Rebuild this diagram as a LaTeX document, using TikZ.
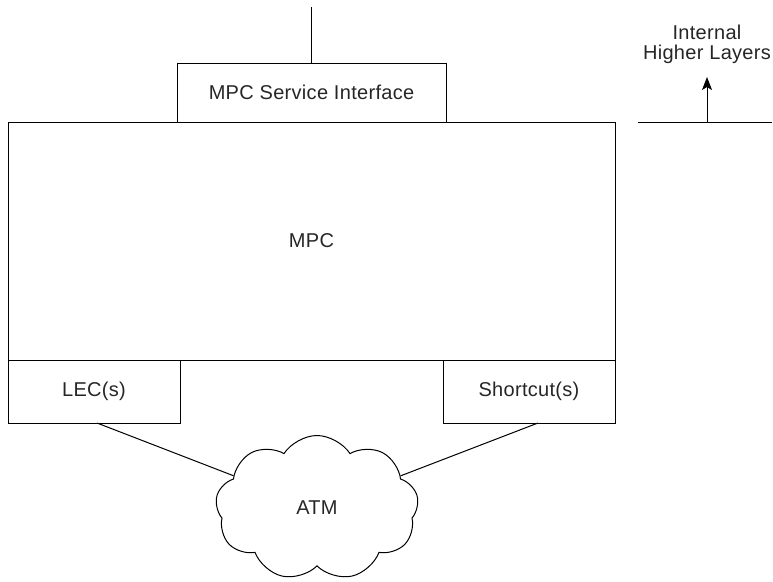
\documentclass[tikz,border=0pt]{standalone}
\usepackage{fontspec}
\setmainfont{Liberation Sans}[LetterSpace=1.5]
\usetikzlibrary{shapes.symbols,arrows.meta}
\begin{document}
\begin{tikzpicture}[x=1pt,y=-1pt,
  txt/.style={font=\fontsize{20}{20.5}\selectfont,text=black!85},
  box/.style={draw,line width=1pt,rectangle,inner sep=0pt,outer sep=0pt,txt},
  lbl/.style={txt,align=center,inner sep=0pt},
  conn/.style={line width=1pt}]
\useasboundingbox (0,0) rectangle (773,581);
\node[box,minimum width=607pt,minimum height=238pt] (mpc) at (311.5,241) {MPC};
\node[box,minimum width=269pt,minimum height=59pt] (sif) at (311.5,92.5) {MPC Service Interface};
\node[box,minimum width=172pt,minimum height=63pt] (lec) at (94,391.5) {LEC(s)};
\node[box,minimum width=172pt,minimum height=63pt] (sc) at (529,391.5) {Shortcut(s)};
\node[cloud,draw,line width=1pt,cloud puffs=9,cloud puff arc=115,aspect=1.4,
      minimum width=203pt,minimum height=145pt,inner sep=0pt,txt] (atm) at (317,508) {ATM};
\coordinate (top) at (311.5,7);
\draw[conn] (top) -- (sif.north);
\draw[conn] ([xshift=3pt]lec.south) -- (atm);
\draw[conn] ([xshift=9pt]sc.south) -- (atm);
\coordinate (hl) at (638,122);
\coordinate (hr) at (772,122);
\coordinate (abase) at (707,122);
\node[lbl] (ihl) at (707,44.5) {Internal\\Higher Layers};
\coordinate (atip) at (707,77);
\draw[conn] (hl) -- (hr);
\draw[conn,-{Stealth[length=13pt,width=10pt,inset=3pt]}] (abase) -- (atip);
\end{tikzpicture}
\end{document}
